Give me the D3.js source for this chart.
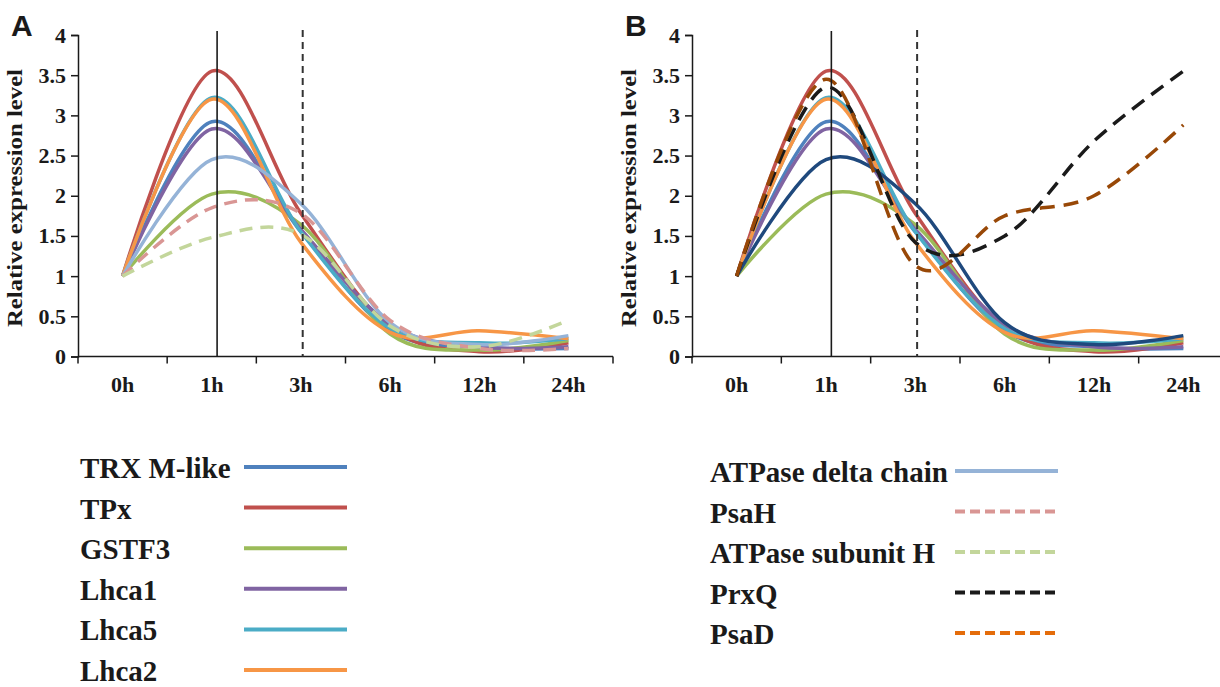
<!DOCTYPE html>
<html>
<head>
<meta charset="utf-8">
<script src="https://cdn.jsdelivr.net/npm/d3@7"></script>
<style>
  body { margin: 0; background: #fff; }
  svg text { font-family: "Liberation Serif", "Times New Roman", serif; font-weight: bold; fill: #1a1a1a; }
  .letter { font-family: "Liberation Sans", Arial, sans-serif; }
</style>
</head>
<body>
<svg id="chart" width="1220" height="687"></svg>
<script>
// time points (x categories) and y ticks
const times = ['0h', '1h', '3h', '6h', '12h', '24h']
const yTicks = [0, 0.5, 1, 1.5, 2, 2.5, 3, 3.5, 4]

// relative expression levels
const trxMLike = [1, 2.92, 1.55, 0.32, 0.12, 0.1]
const tpx = [1, 3.55, 1.78, 0.36, 0.06, 0.17]
const gstf3 = [1, 2.02, 1.64, 0.28, 0.08, 0.2]
const lhca1 = [1, 2.83, 1.58, 0.4, 0.12, 0.12]
const lhca5 = [1, 3.22, 1.55, 0.35, 0.17, 0.22]
const lhca2 = [1, 3.2, 1.42, 0.3, 0.32, 0.22]
const atpDelta = [1, 2.45, 1.9, 0.42, 0.15, 0.26]
const psaH = [1, 1.85, 1.78, 0.45, 0.1, 0.1]
const atpSubH = [1, 1.48, 1.52, 0.38, 0.12, 0.45]
const prxQ = [1, 3.35, 1.42, 1.5, 2.68, 3.55]
const psaD = [1, 3.45, 1.13, 1.75, 2.0, 2.88]

const dash = '13,8'

const panelA = {
  letter: 'A', left: 78, right: 613,
  series: [
    { values: trxMLike, color: '#4f81bd' },
    { values: tpx, color: '#c0504d' },
    { values: gstf3, color: '#9bbb59' },
    { values: lhca1, color: '#8064a2' },
    { values: lhca5, color: '#4bacc6' },
    { values: lhca2, color: '#f79646' },
    { values: atpDelta, color: '#95b3d7' },
    { values: psaH, color: '#d99694', dash: dash },
    { values: atpSubH, color: '#c3d69b', dash: dash }
  ]
}

const panelB = {
  letter: 'B', left: 692, right: 1228,
  series: [
    { values: trxMLike, color: '#4f81bd' },
    { values: tpx, color: '#c0504d' },
    { values: gstf3, color: '#9bbb59' },
    { values: lhca1, color: '#8064a2' },
    { values: lhca5, color: '#4bacc6' },
    { values: lhca2, color: '#f79646' },
    { values: atpDelta, color: '#1f497d' },
    { values: prxQ, color: '#1a1a1a', dash: '15,9' },
    { values: psaD, color: '#984807', dash: '15,9' }
  ]
}

const legendLeft = [
  { name: 'TRX M-like', color: '#4f81bd' },
  { name: 'TPx', color: '#c0504d' },
  { name: 'GSTF3', color: '#9bbb59' },
  { name: 'Lhca1', color: '#8064a2' },
  { name: 'Lhca5', color: '#4bacc6' },
  { name: 'Lhca2', color: '#f79646' }
]
const legendRight = [
  { name: 'ATPase delta chain', color: '#95b3d7' },
  { name: 'PsaH', color: '#d99694', dash: '10,5' },
  { name: 'ATPase subunit H', color: '#c3d69b', dash: '10,5' },
  { name: 'PrxQ', color: '#1a1a1a', dash: '10,5' },
  { name: 'PsaD', color: '#e46c0a', dash: '10,5' }
]

const plotTop = 35
const plotBottom = 356.5

const svg = d3.select('#chart')

drawPanel(panelA)
drawPanel(panelB)
drawLegend(legendLeft, 80, 244, 467, 40.6)
drawLegend(legendRight, 710, 955, 471, 40.5)

function drawPanel (cfg) {
  const x = d3.scaleBand().domain(times).range([cfg.left, cfg.right])
  const y = d3.scaleLinear().domain([0, 4]).range([plotBottom, plotTop])
  const bw = x.bandwidth()
  const g = svg.append('g')

  // y axis
  const yAxis = g.append('g')
    .attr('transform', `translate(${cfg.left},0)`)
    .call(d3.axisLeft(y).tickValues(yTicks).tickSize(7).tickPadding(5).tickFormat(d3.format('~g')))
  yAxis.select('.domain').attr('stroke', '#1a1a1a').attr('stroke-width', 1.5)
  yAxis.selectAll('.tick line').attr('stroke', '#1a1a1a').attr('stroke-width', 1.5)
  yAxis.selectAll('.tick text').attr('font-size', 22).attr('fill', '#1a1a1a')

  // x axis: line, ticks on category boundaries, labels in the middle
  g.append('line')
    .attr('x1', cfg.left).attr('x2', cfg.right)
    .attr('y1', plotBottom).attr('y2', plotBottom)
    .attr('stroke', '#1a1a1a').attr('stroke-width', 1.5)
  const bounds = times.map(t => x(t)).concat([cfg.right])
  g.selectAll('.xtick')
    .data(bounds)
    .enter().append('line')
    .attr('class', 'xtick')
    .attr('x1', d => d).attr('x2', d => d)
    .attr('y1', plotBottom).attr('y2', plotBottom + 7)
    .attr('stroke', '#1a1a1a').attr('stroke-width', 1.5)
  g.selectAll('.xlab')
    .data(times)
    .enter().append('text')
    .attr('class', 'xlab')
    .attr('x', d => x(d) + bw / 2)
    .attr('y', plotBottom + 35)
    .attr('text-anchor', 'middle')
    .attr('font-size', 22)
    .text(d => d)

  // axis title + panel letter
  g.append('text')
    .attr('transform', `translate(${cfg.left - 56},198) rotate(-90)`)
    .attr('text-anchor', 'middle')
    .attr('font-size', 22)
    .attr('textLength', 258)
    .attr('lengthAdjust', 'spacingAndGlyphs')
    .text('Relative expression level')
  g.append('text')
    .attr('class', 'letter')
    .attr('x', cfg.left - 67).attr('y', 36)
    .attr('font-size', 30)
    .text(cfg.letter)

  // smoothed lines
  const line = d3.line()
    .x((d, i) => x(times[i]) + bw / 2)
    .y(d => y(d))
    .curve(d3.curveCatmullRom.alpha(0))
  g.selectAll('.series')
    .data(cfg.series)
    .enter().append('path')
    .attr('class', 'series')
    .attr('d', d => line(d.values))
    .attr('fill', 'none')
    .attr('stroke', d => d.color)
    .attr('stroke-width', 3.5)
    .attr('stroke-dasharray', d => d.dash || null)

  // reference lines at 1h (solid) and 3h (dashed)
  g.append('line')
    .attr('x1', x('1h') + bw * 0.56).attr('x2', x('1h') + bw * 0.56)
    .attr('y1', 31).attr('y2', plotBottom)
    .attr('stroke', '#1a1a1a').attr('stroke-width', 1.6)
  g.append('line')
    .attr('x1', x('3h') + bw * 0.52).attr('x2', x('3h') + bw * 0.52)
    .attr('y1', 30).attr('y2', plotBottom)
    .attr('stroke', '#333').attr('stroke-width', 2)
    .attr('stroke-dasharray', '7,5')
}

function drawLegend (items, textX, swatchX, startY, step) {
  const g = svg.append('g')
  const rows = g.selectAll('g')
    .data(items)
    .enter().append('g')
    .attr('transform', (d, i) => `translate(0,${startY + i * step})`)
  rows.append('text')
    .attr('x', textX).attr('y', 11)
    .attr('font-size', 29)
    .text(d => d.name)
  rows.append('line')
    .attr('x1', swatchX).attr('x2', swatchX + 103)
    .attr('stroke', d => d.color)
    .attr('stroke-width', 4)
    .attr('stroke-dasharray', d => d.dash || null)
}
</script>
</body>
</html>
